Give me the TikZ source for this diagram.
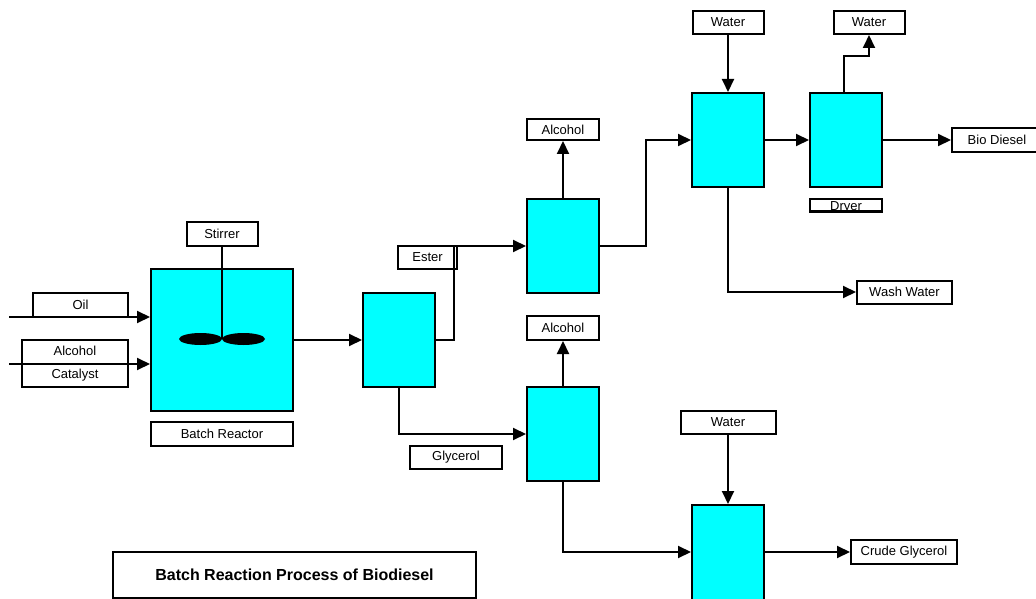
\documentclass[tikz,border=0pt]{standalone}
\usepackage{fontspec}
\setmainfont{Liberation Sans}
\usetikzlibrary{arrows.meta}
\definecolor{procfill}{RGB}{0,255,255}
\begin{document}
\begin{tikzpicture}[x=1pt,y=-1pt,
  every node/.style={font=\fontsize{13}{15}\selectfont, text=black},
  lbl/.style={draw, line width=2pt, fill=white, inner sep=0pt, align=center},
  vessel/.style={draw, line width=2pt, fill=procfill, inner sep=0pt, minimum width=72pt, minimum height=94pt},
  flow/.style={line width=2pt, -{Triangle[length=13pt,width=12pt]}},
  pipe/.style={line width=2pt}]
\useasboundingbox (0,0) rectangle (1036,599);

% vessels
\node[vessel, minimum width=142pt, minimum height=142pt] (reactor) at (222,340) {};
\node[vessel] (sep1) at (399,340) {};
\node[vessel] (sepU) at (563,246) {};
\node[vessel] (sepL) at (563,434) {};
\node[vessel] (wash1) at (728,140) {};
\node[vessel] (dryer) at (846,140) {};
\node[vessel, minimum height=106pt] (wash2) at (728,558) {};

% labels
\node[lbl, minimum width=71pt, minimum height=24pt] (stirrer) at (222,234) {Stirrer};
\node[lbl, minimum width=95pt, minimum height=24pt] (oil) at (80.5,305) {Oil};
\node[lbl, minimum width=106pt, minimum height=47pt] (alccat) at (75,363.5) {Alcohol\\[8pt]Catalyst};
\node[lbl, minimum width=142pt, minimum height=24pt] (reactorlbl) at (222,434) {Batch Reactor};
\node[lbl, minimum width=59pt, minimum height=23pt] (ester) at (427.5,257.5) {Ester};
\node[lbl, minimum width=92pt, minimum height=23pt] (glyc) at (456,457.5) {Glycerol};
\node[lbl, minimum width=72pt, minimum height=21pt] (alc1) at (563,129.5) {Alcohol};
\node[lbl, minimum width=72pt, minimum height=24pt] (alc2) at (563,328) {Alcohol};
\node[lbl, minimum width=71pt, minimum height=23pt] (water1) at (728,22.5) {Water};
\node[lbl, minimum width=71pt, minimum height=23pt] (water2) at (869,22.5) {Water};
\node[lbl, line width=1.5pt, minimum width=71pt, minimum height=12pt] (dryerlbl) at (846,205) {};
\begin{scope}
  \clip (dryerlbl.south west) rectangle (dryerlbl.north east);
  \node[anchor=base, inner sep=0pt] (dryertxt) at (846,210) {Dryer};
\end{scope}
\draw[line width=1.5pt] (dryerlbl.south west) rectangle (dryerlbl.north east);
\node[lbl, minimum width=90pt, minimum height=24pt] (bio) at (997,140) {Bio Diesel};
\node[lbl, minimum width=95pt, minimum height=23pt] (washw) at (904.5,292) {Wash Water};
\node[lbl, minimum width=95pt, minimum height=23pt] (water3) at (728,422.5) {Water};
\node[lbl, minimum width=106pt, minimum height=24pt] (crude) at (904,552) {Crude Glycerol};
\node[lbl, minimum width=363pt, minimum height=46pt, font=\fontsize{16}{18}\selectfont\bfseries] (title) at (294.5,575) {Batch Reaction Process of Biodiesel};

% stirrer
\draw[pipe] (stirrer.south) -- (222,339);
\fill[black] (200.5,339) ellipse [x radius=21.5, y radius=6];
\fill[black] (243.5,339) ellipse [x radius=21.5, y radius=6];

% feeds
\coordinate (oilin) at (9,317);
\coordinate (alcin) at (9,364);
\draw[flow] (oilin) -- (oilin -| reactor.west);
\draw[flow] (alcin) -- (alcin -| reactor.west);

% connectors
\draw[flow] (reactor.east) -- (sep1.west);
\draw[flow] (sep1.east) -- ++(18,0) |- (sepU.west);
\draw[flow] (sep1.south) |- (sepL.west);
\draw[flow] (sepU.north) -- (alc1.south);
\draw[flow] (sepL.north) -- (alc2.south);
\draw[flow] (sepU.east) -- ++(46,0) |- (wash1.west);
\draw[flow] (water1.south) -- (wash1.north);
\draw[flow] (wash1.east) -- (dryer.west);
\draw[flow] ([xshift=-2pt]dryer.north) -- ++(0,-36) -| (water2.south);
\draw[flow] (dryer.east) -- (bio.west);
\draw[flow] (wash1.south) |- (washw.west);
\draw[flow] (sepL.south) |- ([yshift=6pt]wash2.west);
\draw[flow] (water3.south) -- (wash2.north);
\draw[flow] ([yshift=6pt]wash2.east) -- (crude.west);
\end{tikzpicture}
\end{document}
